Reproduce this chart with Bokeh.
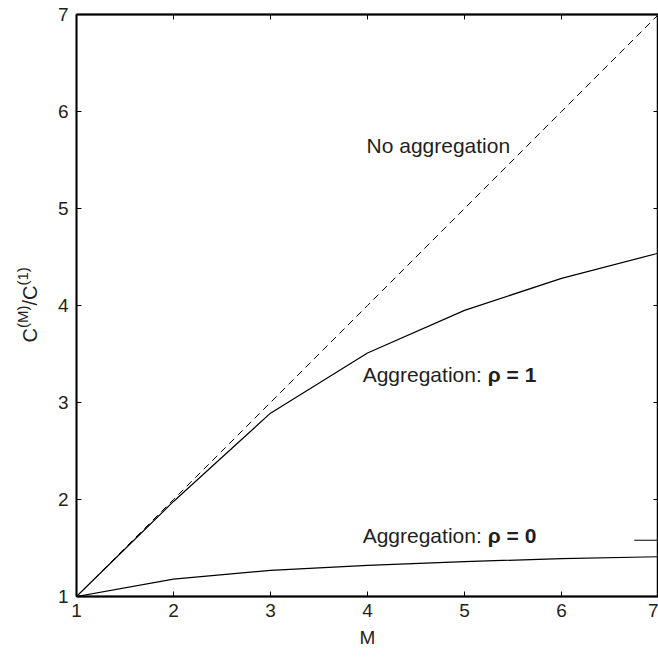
import math
from bokeh.plotting import figure
from bokeh.layouts import row
from bokeh.models import Range1d, LinearAxis, FixedTicker
from bokeh.embed import file_html
from bokeh.resources import INLINE
from bokeh.core.properties import value

# data
M = [1, 2, 3, 4, 5, 6, 7]
no_aggregation = [1, 2, 3, 4, 5, 6, 7]
agg_rho1 = [1.0, 1.98, 2.89, 3.51, 3.95, 4.28, 4.54]
agg_rho0 = [1.0, 1.18, 1.27, 1.32, 1.36, 1.39, 1.41]
stray_x = [6.75, 7.0]
stray_y = [1.58, 1.58]
ticks = [1, 2, 3, 4, 5, 6, 7]

# annotations
label_plain = ["No aggregation", "Aggregation: ", "Aggregation: "]
label_plain_x = [3.99, 3.95, 3.95]
label_plain_y = [5.65, 3.29, 1.63]
label_bold = ["\u03c1 = 1", "\u03c1 = 0"]
label_bold_x = [5.24, 5.24]
label_bold_y = [3.29, 1.63]
ylabel_parts = ["C", "(M)", "/C", "(1)"]

FONT = "Liberation Sans"
TXT = "#231f20"
H = 659
LABEL_W = 40
LEFT, TOP, BOTTOM = 76, 14, 63
FRAME_H = H - TOP - BOTTOM

# narrow strip holding the y-axis label (regular + superscript pieces);
# its frame is aligned with the main frame by the row layout, so its y range is in pixels
lab = figure(width=LABEL_W, height=H, output_backend="svg", toolbar_location=None,
             x_range=Range1d(0, LABEL_W), y_range=Range1d(0, FRAME_H),
             min_border=0, x_axis_type=None, y_axis_type=None)
lab.grid.visible = False
lab.outline_line_color = None
lab.background_fill_color = "white"
lab.border_fill_color = "white"
sizes = [20, 15, 20, 15]
widths_em = [0.722, 1.5, 1.0, 1.222]
xs = [29, 22, 29, 22]
ys = []
ypos = (H - BOTTOM) - 342
for fs, wem in zip(sizes, widths_em):
    ys.append(ypos)
    ypos += wem * fs
for part, fs, xb, yb in zip(ylabel_parts, sizes, xs, ys):
    lab.text(x=[xb], y=[yb], text=[part], angle=math.pi / 2, text_font=value(FONT),
             text_font_size=f"{fs}px", text_color=TXT, text_align="left",
             text_baseline="alphabetic")

p = figure(width=658 - LABEL_W, height=H, output_backend="svg", toolbar_location=None,
           x_range=Range1d(1, 7), y_range=Range1d(1, 7),
           min_border_left=LEFT - LABEL_W, min_border_top=TOP, min_border_right=0,
           min_border_bottom=BOTTOM)
p.grid.visible = False
p.outline_line_color = "black"
p.outline_line_width = 1.5
p.background_fill_color = "white"
p.border_fill_color = "white"

for ax in [p.xaxis[0], p.yaxis[0]]:
    ax.ticker = FixedTicker(ticks=ticks)
    ax.major_tick_in = 5
    ax.major_tick_out = 0
    ax.minor_tick_in = 0
    ax.minor_tick_out = 0
    ax.axis_line_width = 1.8
    ax.major_tick_line_width = 1
    ax.major_label_text_font = FONT
    ax.major_label_text_font_size = "19px"
    ax.major_label_text_color = TXT
    ax.axis_label_text_font = FONT
    ax.axis_label_text_font_size = "19px"
    ax.axis_label_text_font_style = "normal"
    ax.axis_label_text_color = TXT

p.xaxis[0].axis_label = "M"
p.xaxis[0].major_label_standoff = 7
p.xaxis[0].axis_label_standoff = 7
p.yaxis[0].major_label_standoff = 8

for loc in ["above", "right"]:
    a = LinearAxis(ticker=FixedTicker(ticks=ticks), major_tick_in=5, major_tick_out=0,
                   minor_tick_in=0, minor_tick_out=0, major_label_text_font_size="0px",
                   major_label_standoff=0, axis_line_width=1.8)
    a.major_label_text_alpha = 0
    p.add_layout(a, loc)

p.line(M, no_aggregation, line_color="black", line_width=1, line_dash="7 5")
p.line(M, agg_rho1, line_color="black", line_width=1.2)
p.line(M, agg_rho0, line_color="black", line_width=1.2)
p.line(stray_x, stray_y, line_color="black", line_width=1)

p.text(x=label_plain_x, y=label_plain_y, text=label_plain, text_font=value(FONT),
       text_font_size="21px", text_color=TXT, text_baseline="middle", text_align="left")
p.text(x=label_bold_x, y=label_bold_y, text=label_bold, text_font=value(FONT),
       text_font_size="21px", text_color=TXT, text_baseline="middle", text_align="left",
       text_font_style="bold")

layout = row(lab, p, spacing=0)
open("out.html", "w").write(file_html(layout, INLINE))
